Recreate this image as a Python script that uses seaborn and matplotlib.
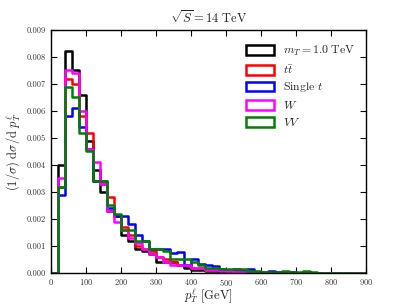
import numpy as np
import pandas as pd
import matplotlib
matplotlib.use("Agg")
import matplotlib.pyplot as plt
import matplotlib.patches as mpatches
import seaborn as sns

# bin edges (GeV)
bin_edges = list(range(0, 920, 20))
bin_centers = [e + 10 for e in bin_edges[:-1]]

labels = [r"$m_T = 1.0\ \mathrm{TeV}$", r"$t\bar{t}$", r"$\mathrm{Single}\ t$", r"$W$", r"$VV$"]
colors = ["black", "red", "blue", "magenta", "green"]

signal = [0, 0.0040, 0.0082, 0.0075, 0.0066, 0.0049, 0.0038, 0.0030, 0.0023, 0.0021,
          0.0014, 0.0012, 0.0009, 0.0008, 0.0007, 0.0004, 0.0004, 0.0004, 0.0003, 0.0002,
          0.00012, 0.0001, 0.00008, 0.00006, 0.00005, 0.00004, 0.00003, 0.00002, 0.00002, 0.00001,
          0.00001, 0, 0, 0, 0, 0, 0, 0, 0, 0, 0, 0, 0, 0, 0]
ttbar = [0, 0.0032, 0.0072, 0.0070, 0.0058, 0.0052, 0.0034, 0.0033, 0.0028, 0.0021,
         0.0017, 0.0014, 0.0010, 0.0009, 0.0008, 0.0006, 0.0005, 0.0004, 0.0003, 0.0003,
         0.0002, 0.0002, 0.0001, 0.0001, 0.0001, 0.00008, 0.00006, 0.00005, 0.00004, 0.00003,
         0.00002, 0.00002, 0.00001, 0.00001, 0, 0, 0, 0, 0, 0, 0, 0, 0, 0, 0]
single_t = [0, 0.0029, 0.0058, 0.0061, 0.0054, 0.0046, 0.0034, 0.0034, 0.0024, 0.0021,
            0.0021, 0.0018, 0.0014, 0.0012, 0.0009, 0.0009, 0.00088, 0.00073, 0.00079, 0.0003,
            0.0005, 0.00033, 0.0003, 0.00025, 0.00015, 0.00012, 0.00014, 0.0001, 0.00016, 0.00005,
            0.00004, 0.00006, 0.00003, 0.00002, 0.00002, 0.00001, 0.00001, 0, 0.00001, 0, 0, 0, 0, 0, 0]
w_boson = [0, 0.0035, 0.0075, 0.0074, 0.0060, 0.0046, 0.0041, 0.0033, 0.0023, 0.0019,
           0.0016, 0.0013, 0.0011, 0.0009, 0.0007, 0.0006, 0.0004, 0.0003, 0.0003, 0.0003,
           0.0002, 0.0002, 0.0001, 0.0001, 0.00008, 0.00006, 0.00005, 0.00004, 0.00003, 0.00002,
           0.00002, 0.00001, 0.00001, 0, 0, 0, 0, 0, 0, 0, 0, 0, 0, 0, 0]
vv = [0, 0.0032, 0.0069, 0.0065, 0.0052, 0.0045, 0.0034, 0.0034, 0.0025, 0.0022,
      0.0016, 0.0016, 0.0012, 0.0012, 0.0009, 0.0009, 0.0008, 0.0005, 0.0005, 0.0005,
      0.0004, 0.0003, 0.00017, 0.00017, 0.00015, 0.00013, 0.00013, 0.00016, 0.00008, 0.00006,
      0.00005, 0.00004, 0.00004, 0.00009, 0.00003, 0.00002, 0.00006, 0.00002, 0.00001, 0, 0, 0, 0, 0, 0]

series = [signal, ttbar, single_t, w_boson, vv]

sns.set_style("ticks")
plt.rcParams.update({
    "font.family": "serif",
    "font.serif": ["cmr10", "DejaVu Serif"],
    "mathtext.fontset": "cm",
    "axes.formatter.use_mathtext": True,
    "xtick.direction": "in",
    "ytick.direction": "in",
    "xtick.top": True,
    "ytick.right": True,
    "xtick.major.size": 4,
    "ytick.major.size": 4,
    "xtick.major.pad": 3,
    "axes.linewidth": 1.0,
    "axes.edgecolor": "black",
})

fig = plt.figure(figsize=(4.07, 3.05), dpi=100)
ax = fig.add_axes([0.125, 0.105, 0.775, 0.797])

for lab, col, vals in zip(labels, colors, series):
    df = pd.DataFrame({"pt": bin_centers, "w": vals})
    sns.histplot(data=df, x="pt", weights="w", bins=bin_edges, element="step",
                 fill=False, color=col, linewidth=1.8, ax=ax, legend=False)

ax.set_xlim(0, 900)
ax.set_ylim(0, 0.009)
ax.set_xticks(range(0, 1000, 100))
ax.set_yticks(np.arange(0, 0.0091, 0.001))
ax.set_yticklabels([f"{v:.3f}" for v in np.arange(0, 0.0091, 0.001)])
ax.tick_params(labelsize=6, colors="black", labelcolor="#333333")
ax.set_xlabel(r"$p_T^\ell\ [\mathrm{GeV}]$", fontsize=9, labelpad=-1)
ax.set_ylabel(r"$(1/\sigma)\ \mathrm{d}\sigma/\mathrm{d}\ p_T^\ell$", fontsize=9, labelpad=3)
ax.set_title(r"$\sqrt{S} = 14\ \mathrm{TeV}$", fontsize=9, pad=5)

handles = [mpatches.Patch(facecolor="none", edgecolor=c, linewidth=1.8) for c in colors]
ax.legend(handles, labels, loc="upper right", frameon=False, fontsize=8.5,
          handlelength=2.4, handleheight=0.9, labelspacing=0.4,
          bbox_to_anchor=(1.0, 0.985))

fig.savefig("out.png", dpi=100)
